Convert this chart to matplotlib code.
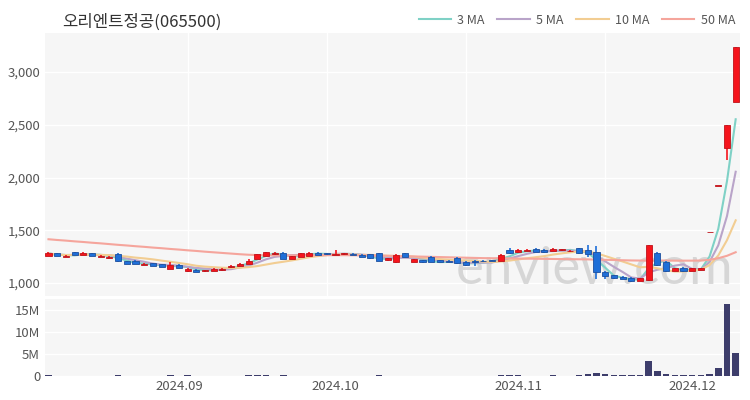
import numpy as np
import pandas as pd
import matplotlib.pyplot as plt

plt.rcParams['font.family'] = ['Noto Sans CJK KR', 'DejaVu Sans']

title = "오리엔트정공(065500)"

# 일봉 OHLC (원)
opens = [1258, 1280, 1250, 1292, 1265, 1282, 1245, 1236, 1272, 1210,
         1205, 1175, 1190, 1178, 1135, 1175, 1110, 1128, 1112, 1118,
         1120, 1148, 1162, 1182, 1230, 1258, 1272, 1285, 1228, 1245,
         1258, 1285, 1280, 1268, 1275, 1278, 1268, 1272, 1282, 1218,
         1195, 1280, 1198, 1215, 1248, 1215, 1210, 1238, 1200, 1210,
         1212, 1215, 1210, 1315, 1292, 1305, 1322, 1312, 1305, 1310,
         1300, 1330, 1310, 1298, 1105, 1075, 1055, 1050, 1020, 1025,
         1280, 1200, 1118, 1138, 1115, 1125, 1479, 1922, 2280, 2720]
highs = [1294, 1285, 1262, 1295, 1290, 1288, 1262, 1253, 1280, 1212,
         1220, 1190, 1192, 1182, 1200, 1180, 1138, 1132, 1128, 1140,
         1140, 1170, 1190, 1225, 1278, 1295, 1290, 1290, 1258, 1285,
         1290, 1290, 1283, 1310, 1285, 1280, 1272, 1278, 1288, 1240,
         1272, 1285, 1230, 1220, 1252, 1220, 1215, 1242, 1205, 1215,
         1215, 1218, 1275, 1335, 1318, 1318, 1328, 1318, 1335, 1322,
         1312, 1335, 1360, 1355, 1110, 1080, 1068, 1055, 1050, 1358,
         1290, 1205, 1142, 1150, 1142, 1145, 1479, 1922, 2495, 3240]
lows = [1255, 1255, 1248, 1268, 1262, 1255, 1242, 1232, 1200, 1180,
        1178, 1172, 1162, 1150, 1130, 1140, 1105, 1105, 1108, 1115,
        1112, 1145, 1160, 1180, 1228, 1255, 1268, 1225, 1225, 1242,
        1255, 1268, 1268, 1262, 1270, 1265, 1248, 1230, 1210, 1212,
        1192, 1248, 1195, 1192, 1195, 1198, 1196, 1185, 1160, 1165,
        1200, 1205, 1208, 1278, 1288, 1300, 1295, 1288, 1300, 1305,
        1298, 1278, 1245, 1040, 1040, 1042, 1035, 1010, 1015, 1020,
        1165, 1105, 1112, 1105, 1110, 1120, 1479, 1922, 2165, 2715]
closes = [1280, 1258, 1258, 1270, 1285, 1258, 1258, 1250, 1205, 1185,
          1182, 1185, 1165, 1152, 1175, 1145, 1135, 1108, 1122, 1130,
          1132, 1165, 1185, 1210, 1272, 1290, 1282, 1228, 1252, 1280,
          1285, 1270, 1272, 1278, 1280, 1268, 1250, 1235, 1212, 1235,
          1265, 1250, 1225, 1195, 1198, 1202, 1200, 1188, 1172, 1202,
          1205, 1208, 1270, 1280, 1312, 1312, 1298, 1292, 1318, 1316,
          1308, 1282, 1275, 1100, 1062, 1048, 1040, 1015, 1045, 1358,
          1172, 1110, 1138, 1110, 1138, 1138, 1479, 1922, 2495, 3240]

# 거래량 (백만주)
volumes = [0.12, 0.08, 0.06, 0.10, 0.07, 0.06, 0.05, 0.05, 0.15, 0.10,
           0.08, 0.06, 0.07, 0.09, 0.12, 0.08, 0.20, 0.09, 0.06, 0.05,
           0.07, 0.09, 0.10, 0.14, 0.22, 0.18, 0.09, 0.12, 0.10, 0.11,
           0.09, 0.07, 0.06, 0.10, 0.05, 0.05, 0.07, 0.08, 0.12, 0.06,
           0.11, 0.09, 0.07, 0.06, 0.08, 0.05, 0.05, 0.08, 0.10, 0.07,
           0.05, 0.06, 0.18, 0.25, 0.12, 0.08, 0.10, 0.09, 0.12, 0.08,
           0.07, 0.20, 0.50, 0.75, 0.40, 0.20, 0.15, 0.15, 0.20, 3.45,
           1.15, 0.40, 0.25, 0.20, 0.15, 0.20, 0.55, 1.90, 16.4, 5.20]

# 50일 이동평균 (이전 데이터 포함, 차트에서 읽은 값)
ma50 = [1415, 1408, 1402, 1395, 1389, 1382, 1376, 1369, 1362, 1356,
        1349, 1343, 1336, 1330, 1323, 1317, 1310, 1304, 1297, 1291,
        1285, 1279, 1273, 1268, 1265, 1263, 1262, 1262, 1262, 1262,
        1263, 1263, 1264, 1264, 1264, 1263, 1262, 1261, 1260, 1258,
        1256, 1254, 1252, 1250, 1248, 1246, 1244, 1242, 1240, 1238,
        1236, 1235, 1234, 1233, 1232, 1231, 1230, 1229, 1228, 1227,
        1226, 1225, 1224, 1222, 1220, 1218, 1216, 1214, 1213, 1213,
        1213, 1213, 1212, 1212, 1212, 1213, 1220, 1235, 1258, 1292]

tick_idx = [15, 33, 54, 74]
tick_labels = ["2024.09", "2024.10", "2024.11", "2024.12"]

df = pd.DataFrame({"open": opens, "high": highs, "low": lows,
                   "close": closes, "volume": np.array(volumes) * 1e6})
df["ma3"] = df["close"].rolling(3, min_periods=1).mean()
df["ma5"] = df["close"].rolling(5, min_periods=1).mean()
df["ma10"] = df["close"].rolling(10, min_periods=1).mean()
df["ma50"] = ma50
x = np.arange(len(df))

up = df["close"] >= df["open"]
face = np.where(up, "#f5141c", "#1f6fd8")
edge = np.where(up, "#c0121a", "#1d4f9e")

bg = "#f6f6f6"
txt = "#555555"

fig = plt.figure(figsize=(7.5, 4), dpi=100)
ax = fig.add_axes([0.06, 0.26, 0.9267, 0.6575])
axv = fig.add_axes([0.06, 0.06, 0.9267, 0.1925])

for a in (ax, axv):
    a.set_facecolor(bg)
    for s in a.spines.values():
        s.set_visible(False)
    a.tick_params(length=0, colors=txt, labelsize=9.5)
    a.set_xlim(-0.4, 79.5)

# 격자
ax.set_ylim(877, 3370)
ax.set_yticks([1000, 1500, 2000, 2500, 3000])
ax.set_yticklabels([f"{v:,}" for v in [1000, 1500, 2000, 2500, 3000]])
ax.set_xticks([16, 32, 48, 64])
ax.set_xticklabels([])
ax.grid(True, color="white", linewidth=1)
ax.set_axisbelow(True)

# 워터마크
ax.text(0.99, 0.01, "enview.com", transform=ax.transAxes, ha="right",
        va="bottom", fontsize=38, color="#cfcfcf", alpha=0.8,
        family=["Lato", "DejaVu Sans"], zorder=1)

# 이동평균선
ax.plot(x, df["ma3"], color="#7fd1c6", lw=1.5, label="3 MA", zorder=2)
ax.plot(x, df["ma5"], color="#b9a4c9", lw=1.5, label="5 MA", zorder=2)
ax.plot(x, df["ma10"], color="#f2cd92", lw=1.5, label="10 MA", zorder=2)
ax.plot(x, df["ma50"], color="#f5a59c", lw=1.5, label="50 MA", zorder=2)

# 캔들
body_lo = df[["open", "close"]].min(axis=1)
body_h = (df["close"] - df["open"]).abs().clip(lower=8)
ax.vlines(x, df["low"], df["high"], colors=face, lw=1.2, zorder=3)
ax.bar(x, body_h, bottom=body_lo, width=0.7, color=face, edgecolor=edge,
       linewidth=0.6, zorder=4)

# 거래량
axv.bar(x, df["volume"], width=0.75, color="#3d3d6b", zorder=3)
axv.set_ylim(0, 17.5e6)
axv.set_yticks([0, 5e6, 10e6, 15e6])
axv.set_yticklabels(["0", "5M", "10M", "15M"])
axv.grid(True, axis="y", color="white", linewidth=1)
axv.set_axisbelow(True)
axv.set_xticks(tick_idx)
axv.set_xticklabels(tick_labels)
axv.tick_params(axis="x", pad=3)

fig.text(0.083, 0.945, title, fontsize=12, color="#333333", va="center")
ax.legend(loc="lower right", bbox_to_anchor=(1.0, 1.005), ncol=4, frameon=False,
          fontsize=9, labelcolor=txt, handlelength=2.6, columnspacing=1.0,
          handletextpad=0.5, borderaxespad=0)

fig.savefig("out.png", dpi=100, facecolor="white")
